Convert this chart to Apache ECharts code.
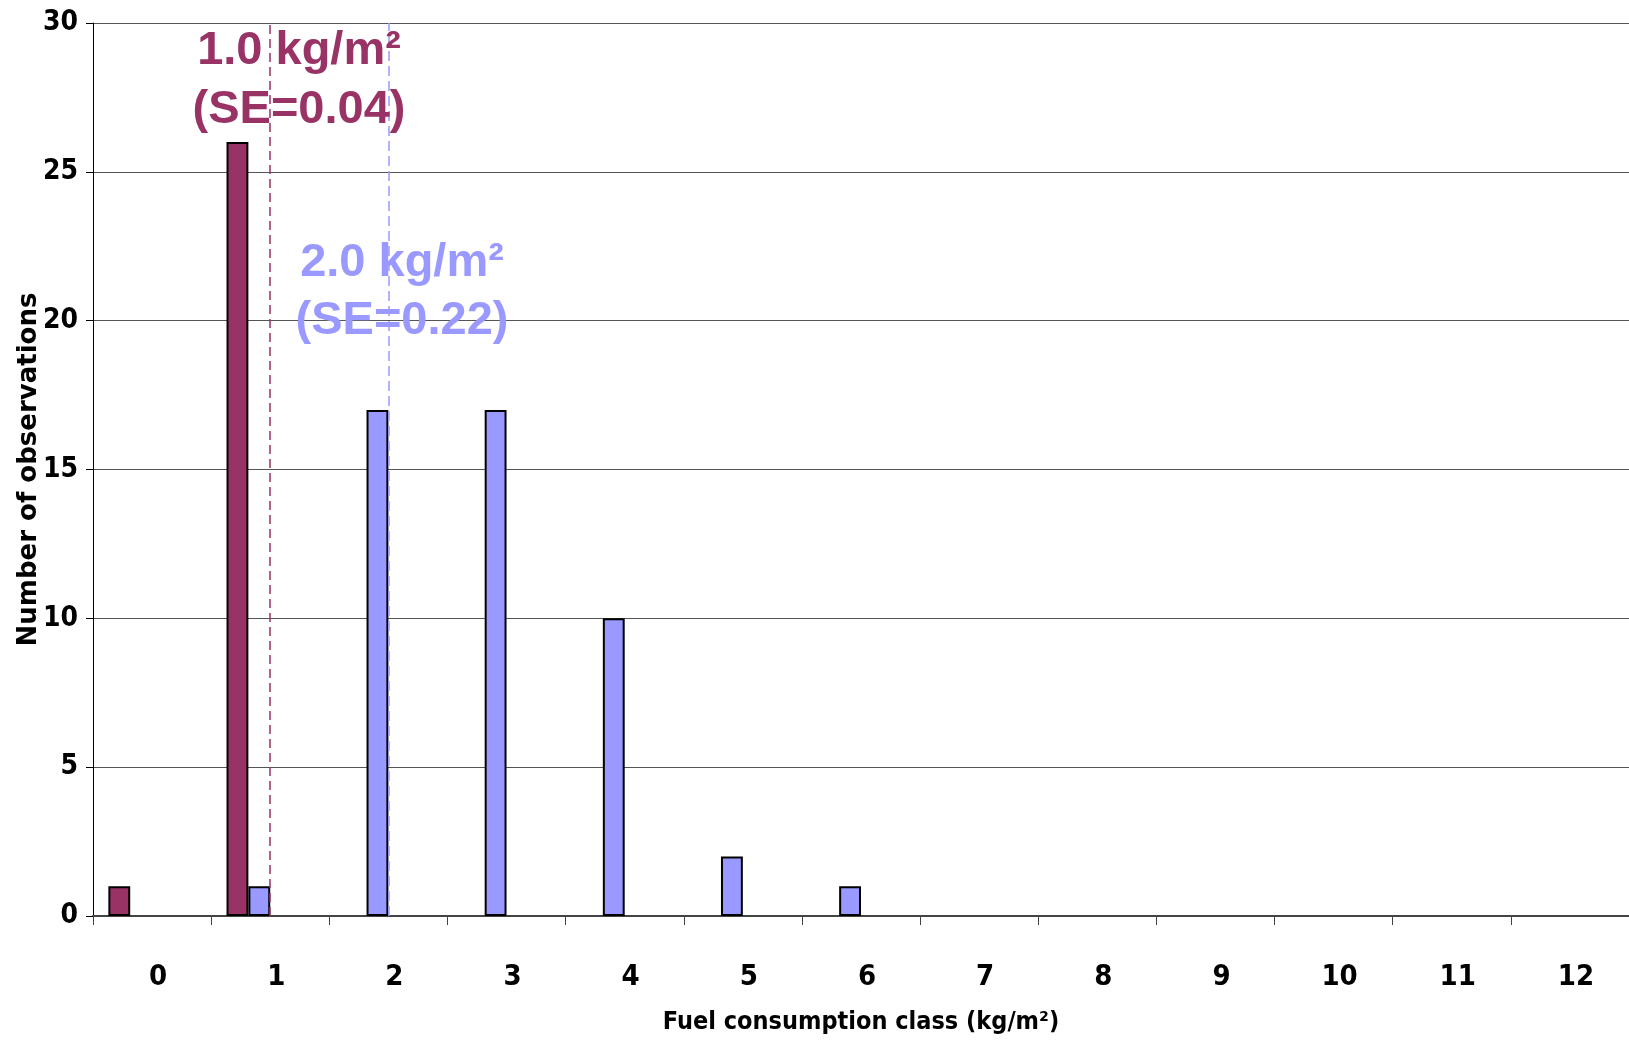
<!DOCTYPE html>
<html>
<head>
<meta charset="utf-8">
<script src="https://cdn.jsdelivr.net/npm/echarts@6/dist/echarts.min.js"></script>
<style>
  html, body { margin: 0; padding: 0; background: #fff; }
  #chart { width: 1629px; height: 1040px; }
</style>
</head>
<body>
<div id="chart"></div>
<script>
// Fuel consumption classes (kg/m2)
const classes = ['0', '1', '2', '3', '4', '5', '6', '7', '8', '9', '10', '11', '12'];
// Number of observations per class, two site groups
const groupA = [1, 26, 0, 0, 0, 0, 0, 0, 0, 0, 0, 0, 0];
const groupB = [0, 1, 17, 17, 10, 2, 1, 0, 0, 0, 0, 0, 0];
// Class index of each group's mean consumption
const meanA = 1;
const meanB = 2;
const yTicks = { min: 0, max: 30, step: 5 };

const narrow = "'DejaVu Sans Condensed', 'Liberation Sans', sans-serif";
const sans = "'Liberation Sans', Arial, sans-serif";
const maroon = '#993366';
const lavender = '#9999FF';

const chart = echarts.init(document.getElementById('chart'), null, { renderer: 'canvas' });

// zero counts are left empty
const toBars = arr => arr.map(v => (v === 0 ? null : v));

const meanLine = (color, cls, dash) => ({
  type: 'line',
  data: [],
  z: 5,
  silent: true,
  markLine: {
    silent: true,
    symbol: 'none',
    label: { show: false },
    lineStyle: { color: color, type: dash, width: 1.5 },
    data: [{ xAxis: cls }]
  }
});

const note = (text, color, x, y) => ({
  type: 'text', x: x, y: y, z: 100,
  style: { text: text, fill: color, font: 'bold 47px ' + sans, align: 'center', verticalAlign: 'middle' }
});

chart.setOption({
  animation: false,
  backgroundColor: '#ffffff',
  grid: { left: 93, right: 0, top: 23, bottom: 124, containLabel: false, outerBoundsMode: 'none' },
  xAxis: {
    type: 'category',
    data: classes,
    boundaryGap: true,
    name: 'Fuel consumption class (kg/m²)',
    nameLocation: 'middle',
    nameGap: 94,
    nameTextStyle: { fontFamily: narrow, fontWeight: 'bold', fontSize: 25, color: '#000' },
    axisLine: { show: true, lineStyle: { color: '#444', width: 2 } },
    axisTick: { show: true, alignWithLabel: false, length: 9, lineStyle: { color: '#444', width: 1 } },
    axisLabel: { fontFamily: narrow, fontWeight: 'bold', fontSize: 29, color: '#000', margin: 47, padding: [0, 0, 0, 12] },
    splitLine: { show: false }
  },
  yAxis: {
    type: 'value',
    min: yTicks.min,
    max: yTicks.max,
    interval: yTicks.step,
    name: 'Number of observations',
    nameLocation: 'middle',
    nameGap: 51,
    nameMoveOverlap: false,
    nameRotate: 90,
    nameTextStyle: { fontFamily: "'DejaVu Sans', sans-serif", fontWeight: 'bold', fontSize: 26, color: '#000' },
    axisLine: { show: true, lineStyle: { color: '#000', width: 1 } },
    axisTick: { show: true, inside: false, length: 7, lineStyle: { color: '#000', width: 1 } },
    axisLabel: { fontFamily: narrow, fontWeight: 'bold', fontSize: 28, color: '#000', margin: 15 },
    splitLine: { show: true, lineStyle: { color: '#555', width: 1 } }
  },
  series: [
    {
      type: 'bar',
      name: 'A',
      data: toBars(groupA),
      barGap: '0%',
      barCategoryGap: '26%',
      itemStyle: { color: maroon, borderColor: '#000', borderWidth: 2 }
    },
    {
      type: 'bar',
      name: 'B',
      data: toBars(groupB),
      itemStyle: { color: lavender, borderColor: '#000', borderWidth: 2 }
    },
    // two empty slots that keep the original four-column grouping per class
    { type: 'bar', name: 'C', data: [] },
    { type: 'bar', name: 'D', data: [] },
    meanLine(maroon, meanA, [9, 5]),
    meanLine(lavender, meanB, [10, 5])
  ],
  graphic: [
    note('1.0 kg/m²', maroon, 299, 51),
    note('(SE=0.04)', maroon, 299, 110),
    note('2.0 kg/m²', lavender, 402, 263),
    note('(SE=0.22)', lavender, 402, 321)
  ]
});
</script>
</body>
</html>
